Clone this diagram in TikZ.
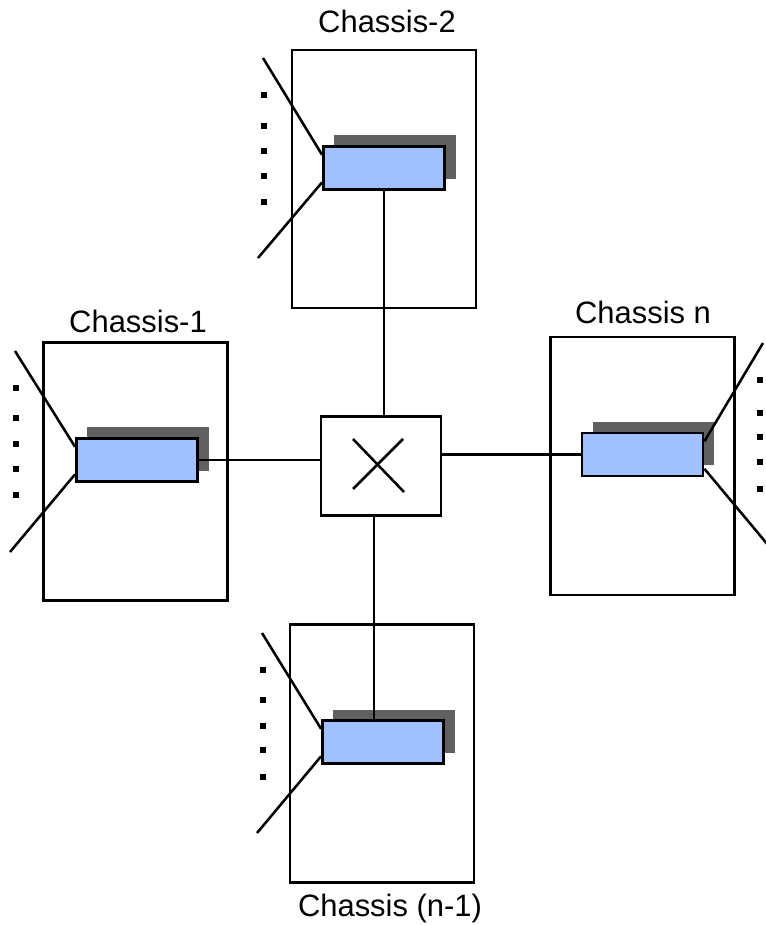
\documentclass[tikz,border=0pt]{standalone}
\usepackage{fontspec}
\setmainfont{Liberation Sans}
\usetikzlibrary{shadows, calc}
\definecolor{cblue}{HTML}{A0C0FF}
\definecolor{cshade}{HTML}{606060}
\tikzset{
  every picture/.style={line width=1.8pt},
  chassis/.style={draw, line width=2pt, minimum width=4.6cm, minimum height=6.45cm, inner sep=0pt},
  card/.style={draw, fill=cblue, line width=2pt, minimum width=3.025cm, minimum height=1.075cm, inner sep=0pt,
    drop shadow={shadow xshift=0.275cm, shadow yshift=0.275cm, fill=cshade, opacity=1}},
  switch/.style={draw, line width=2pt, minimum width=3cm, minimum height=2.475cm, inner sep=0pt},
  lbl/.style={font=\fontsize{22}{26}\selectfont, inner sep=0pt},
  dot/.style={fill=black, minimum size=0.15cm, inner sep=0pt},
}

\begin{document}
\begin{tikzpicture}[x=0.025cm, y=-0.025cm]
  \useasboundingbox (0,0) rectangle (765,925);
  % switch
  \node[switch] (sw) at (381,466) {};
  \draw ($(sw)+(-28,-27)$) -- ($(sw)+(23,26)$);
  \draw ($(sw)+(22,-27)$) -- ($(sw)+(-28,23)$);
  % chassis 2 (top)
  \node[chassis] (c2) at (384,179) {};
  \node[lbl] (l2) at (387,21) {Chassis-2};
  \node[card] (k2) at (384,168) {};
  \coordinate (u2) at (263,58); \coordinate (v2) at (258,258);
  \draw (u2) -- (k2.168); \draw (k2.193) -- (v2);
  \foreach \y [count=\i] in {95,126,151,176,202} \node[dot] (d2\i) at (264,\y) {};
  % chassis 1 (left)
  \node[chassis] (c1) at (135.5,471.5) {};
  \node[lbl] (l1) at (138,321) {Chassis-1};
  \node[card] (k1) at (137,460) {};
  \coordinate (u1) at (15,351); \coordinate (v1) at (10,552);
  \draw (u1) -- (k1.168); \draw (k1.193) -- (v1);
  \foreach \y [count=\i] in {388,418,444,469,495} \node[dot] (d1\i) at (16,\y) {};
  % chassis n (right)
  \node[chassis] (cn) at (642.5,466) {};
  \node[lbl] (ln) at (643,312) {Chassis n};
  \node[card] (kn) at (642.5,454.5) {};
  \coordinate (un) at (763,343); \coordinate (vn) at (768,545);
  \draw (kn.12) -- (un); \draw (kn.347) -- (vn);
  \foreach \y [count=\i] in {380,413,437,462,489} \node[dot] (dn\i) at (760,\y) {};
  % chassis n-1 (bottom)
  \node[chassis] (cb) at (382,753.5) {};
  \node[lbl] (lb) at (390,908) {Chassis (n-1)};
  \node[card] (kb) at (383,742) {};
  \coordinate (ub) at (262,633); \coordinate (vb) at (257,833);
  \draw (ub) -- (kb.168); \draw (kb.193) -- (vb);
  \foreach \y [count=\i] in {670,700,726,750,777} \node[dot] (db\i) at (263,\y) {};
  % links to switch
  \draw (k2.south) -- (k2.south |- sw.north);
  \draw (k1.east) -- (k1.east -| sw.west);
  \draw (sw.east |- kn.west) -- (kn.west);
  \draw ([xshift=-0.175cm]sw.south) -- ([xshift=-0.175cm]sw.south |- kb.north);
\end{tikzpicture}
\end{document}
